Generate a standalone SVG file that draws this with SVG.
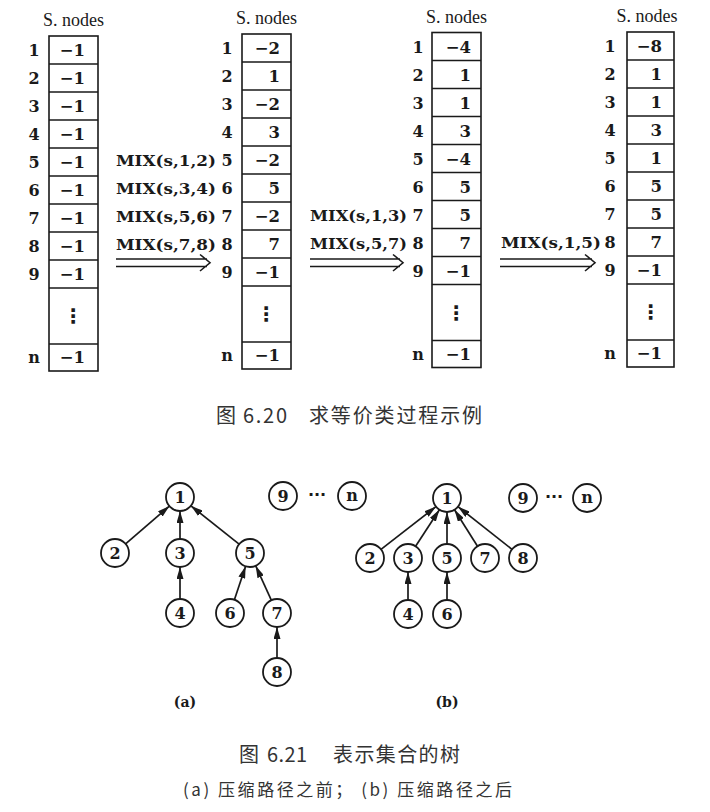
<svg xmlns="http://www.w3.org/2000/svg" width="710" height="812" viewBox="0 0 710 812">
<style>
.box{fill:none;stroke:#1a1a1a;stroke-width:1.6}
.ln{stroke:#1a1a1a;stroke-width:1.5}
.lbl{font-family:"DejaVu Serif","Liberation Serif",serif;font-weight:bold;font-size:16px;fill:#1a1a1a;text-anchor:middle}
.val{font-family:"DejaVu Serif","Liberation Serif",serif;font-weight:bold;font-size:16.5px;fill:#1a1a1a;text-anchor:end}
.hdr{font-family:"Liberation Serif",serif;font-size:18px;fill:#1a1a1a;text-anchor:middle}
.mix{font-family:"DejaVu Serif","Liberation Serif",serif;font-weight:bold;font-size:15.5px;fill:#1a1a1a;text-anchor:end}
.dots{font-family:"DejaVu Sans",sans-serif;font-weight:bold;font-size:20px;fill:#1a1a1a;text-anchor:middle}
.arr{fill:none;stroke:#1a1a1a;stroke-width:1.6}
.node circle{fill:#fff;stroke:#1a1a1a;stroke-width:1.8}
.node text{font-family:"DejaVu Serif","Liberation Serif",serif;font-weight:bold;font-size:16px;fill:#1a1a1a;text-anchor:middle}
.edge{stroke:#1a1a1a;stroke-width:1.7;marker-end:url(#ah)}
.cap{font-family:"Noto Sans CJK SC",sans-serif;font-size:20px;fill:#333}
.sub{font-family:"Noto Sans CJK SC",sans-serif;font-size:17px;fill:#333}
.ab{font-family:"DejaVu Serif","Liberation Serif",serif;font-weight:bold;font-size:14px;fill:#1a1a1a;text-anchor:middle}
.ell{font-family:"DejaVu Sans",sans-serif;font-weight:bold;font-size:16px;fill:#1a1a1a;text-anchor:middle}
</style>
<defs>
<marker id="ah" markerWidth="12" markerHeight="7" refX="12" refY="3.5" orient="auto" markerUnits="userSpaceOnUse">
<path d="M0,0 L12,3.5 L0,7 z" fill="#1a1a1a"/>
</marker>
</defs>

<!-- Array 1 -->
<g id="array1" transform="translate(49,36)">
<text class="hdr" x="24.5" y="-10">S. nodes</text>
<rect class="box" x="0" y="0" width="49" height="335"/>
<path class="ln" d="M0,28H49M0,56H49M0,84H49M0,112H49M0,140H49M0,168H49M0,196H49M0,224H49M0,252H49M0,308H49"/>
<text class="lbl" x="-15" y="20">1</text><text class="lbl" x="-15" y="48">2</text><text class="lbl" x="-15" y="76">3</text><text class="lbl" x="-15" y="104">4</text><text class="lbl" x="-15" y="132">5</text><text class="lbl" x="-15" y="160">6</text><text class="lbl" x="-15" y="188">7</text><text class="lbl" x="-15" y="216">8</text><text class="lbl" x="-15" y="244">9</text><text class="lbl" x="-15" y="327">n</text>
<text class="val" x="36" y="20">−1</text><text class="val" x="36" y="48">−1</text><text class="val" x="36" y="76">−1</text><text class="val" x="36" y="104">−1</text><text class="val" x="36" y="132">−1</text><text class="val" x="36" y="160">−1</text><text class="val" x="36" y="188">−1</text><text class="val" x="36" y="216">−1</text><text class="val" x="36" y="244">−1</text>
<text class="dots" x="24" y="287">⋮</text>
<text class="val" x="36" y="327">−1</text>
</g>

<!-- Array 2 -->
<g id="array2" transform="translate(242,34)">
<text class="hdr" x="24.5" y="-10">S. nodes</text>
<rect class="box" x="0" y="0" width="49" height="335"/>
<path class="ln" d="M0,28H49M0,56H49M0,84H49M0,112H49M0,140H49M0,168H49M0,196H49M0,224H49M0,252H49M0,308H49"/>
<text class="lbl" x="-15" y="20">1</text><text class="lbl" x="-15" y="48">2</text><text class="lbl" x="-15" y="76">3</text><text class="lbl" x="-15" y="104">4</text><text class="lbl" x="-15" y="132">5</text><text class="lbl" x="-15" y="160">6</text><text class="lbl" x="-15" y="188">7</text><text class="lbl" x="-15" y="216">8</text><text class="lbl" x="-15" y="244">9</text><text class="lbl" x="-15" y="327">n</text>
<text class="val" x="38" y="20">−2</text><text class="val" x="38" y="48">1</text><text class="val" x="38" y="76">−2</text><text class="val" x="38" y="104">3</text><text class="val" x="38" y="132">−2</text><text class="val" x="38" y="160">5</text><text class="val" x="38" y="188">−2</text><text class="val" x="38" y="216">7</text><text class="val" x="38" y="244">−1</text>
<text class="dots" x="24" y="287">⋮</text>
<text class="val" x="38" y="327">−1</text>
</g>

<!-- Array 3 -->
<g id="array3" transform="translate(432,32.5)">
<text class="hdr" x="24.5" y="-10">S. nodes</text>
<rect class="box" x="0" y="0" width="49" height="335"/>
<path class="ln" d="M0,28H49M0,56H49M0,84H49M0,112H49M0,140H49M0,168H49M0,196H49M0,224H49M0,252H49M0,308H49"/>
<text class="lbl" x="-14" y="20">1</text><text class="lbl" x="-14" y="48">2</text><text class="lbl" x="-14" y="76">3</text><text class="lbl" x="-14" y="104">4</text><text class="lbl" x="-14" y="132">5</text><text class="lbl" x="-14" y="160">6</text><text class="lbl" x="-14" y="188">7</text><text class="lbl" x="-14" y="216">8</text><text class="lbl" x="-14" y="244">9</text><text class="lbl" x="-14" y="327">n</text>
<text class="val" x="39" y="20">−4</text><text class="val" x="39" y="48">1</text><text class="val" x="39" y="76">1</text><text class="val" x="39" y="104">3</text><text class="val" x="39" y="132">−4</text><text class="val" x="39" y="160">5</text><text class="val" x="39" y="188">5</text><text class="val" x="39" y="216">7</text><text class="val" x="39" y="244">−1</text>
<text class="dots" x="24" y="287">⋮</text>
<text class="val" x="39" y="327">−1</text>
</g>

<!-- Array 4 -->
<g id="array4" transform="translate(627,32)">
<text class="hdr" x="20" y="-10">S. nodes</text>
<rect class="box" x="0" y="0" width="47" height="335"/>
<path class="ln" d="M0,28H47M0,56H47M0,84H47M0,112H47M0,140H47M0,168H47M0,196H47M0,224H47M0,252H47M0,308H47"/>
<text class="lbl" x="-17" y="20">1</text><text class="lbl" x="-17" y="48">2</text><text class="lbl" x="-17" y="76">3</text><text class="lbl" x="-17" y="104">4</text><text class="lbl" x="-17" y="132">5</text><text class="lbl" x="-17" y="160">6</text><text class="lbl" x="-17" y="188">7</text><text class="lbl" x="-17" y="216">8</text><text class="lbl" x="-17" y="244">9</text><text class="lbl" x="-17" y="327">n</text>
<text class="val" x="35" y="20">−8</text><text class="val" x="35" y="48">1</text><text class="val" x="35" y="76">1</text><text class="val" x="35" y="104">3</text><text class="val" x="35" y="132">1</text><text class="val" x="35" y="160">5</text><text class="val" x="35" y="188">5</text><text class="val" x="35" y="216">7</text><text class="val" x="35" y="244">−1</text>
<text class="dots" x="23.5" y="287">⋮</text>
<text class="val" x="35" y="327">−1</text>
</g>

<!-- Transition arrows and labels -->
<g id="connectors-top">
<text class="mix" x="216" y="166" textLength="100" lengthAdjust="spacingAndGlyphs">MIX(s,1,2)</text>
<text class="mix" x="216" y="194" textLength="100" lengthAdjust="spacingAndGlyphs">MIX(s,3,4)</text>
<text class="mix" x="216" y="222" textLength="100" lengthAdjust="spacingAndGlyphs">MIX(s,5,6)</text>
<text class="mix" x="216" y="250" textLength="100" lengthAdjust="spacingAndGlyphs">MIX(s,7,8)</text>
<path class="arr" d="M116,259H207M116,266.5H207M200,254.5L210,262.75L200,271"/>
<text class="mix" x="407" y="220.5" textLength="97" lengthAdjust="spacingAndGlyphs">MIX(s,1,3)</text>
<text class="mix" x="407" y="248.5" textLength="97" lengthAdjust="spacingAndGlyphs">MIX(s,5,7)</text>
<path class="arr" d="M310,259H400M310,266.5H400M393,254.5L403,262.75L393,271"/>
<text class="mix" x="601" y="248" textLength="100" lengthAdjust="spacingAndGlyphs">MIX(s,1,5)</text>
<path class="arr" d="M500,259H592M500,266.5H592M585,254.5L595,262.75L585,271"/>
</g>

<!-- Caption 6.20 -->
<text class="cap" x="216" y="423">图</text>
<text class="cap" x="243" y="423" textLength="44">6.20</text>
<text class="cap" x="309" y="423" textLength="173">求等价类过程示例</text>

<!-- Tree (a) edges -->
<g id="edges-a">
<line class="edge" x1="125.6" y1="543.9" x2="169.4" y2="506.1"/>
<line class="edge" x1="180" y1="539" x2="180" y2="511"/>
<line class="edge" x1="239.1" y1="544.2" x2="190.9" y2="505.8"/>
<line class="edge" x1="180" y1="599" x2="180" y2="567"/>
<line class="edge" x1="234.4" y1="599.7" x2="245.6" y2="566.3"/>
<line class="edge" x1="271.3" y1="600.2" x2="255.7" y2="565.8"/>
<line class="edge" x1="277" y1="658" x2="277" y2="627"/>
</g>
<!-- Tree (a) nodes -->
<g id="a1" class="node"><circle cx="180" cy="497" r="14"/><text x="180" y="503">1</text></g>
<g id="a2" class="node"><circle cx="115" cy="553" r="14"/><text x="115" y="559">2</text></g>
<g id="a3" class="node"><circle cx="180" cy="553" r="14"/><text x="180" y="559">3</text></g>
<g id="a5" class="node"><circle cx="250" cy="553" r="14"/><text x="250" y="559">5</text></g>
<g id="a4" class="node"><circle cx="180" cy="613" r="14"/><text x="180" y="619">4</text></g>
<g id="a6" class="node"><circle cx="230" cy="613" r="14"/><text x="230" y="619">6</text></g>
<g id="a7" class="node"><circle cx="277" cy="613" r="14"/><text x="277" y="619">7</text></g>
<g id="a8" class="node"><circle cx="277" cy="672" r="14"/><text x="277" y="678">8</text></g>
<g id="a9" class="node"><circle cx="283" cy="496" r="14"/><text x="283" y="502">9</text></g>
<g id="an" class="node"><circle cx="352" cy="496" r="14"/><text x="352" y="501">n</text></g>
<text class="ell" x="317" y="500">···</text>
<text class="ab" x="185" y="707">(a)</text>

<!-- Tree (b) edges -->
<g id="edges-b">
<line class="edge" x1="381.0" y1="549.4" x2="436.0" y2="506.6"/>
<line class="edge" x1="415.6" y1="546.3" x2="439.4" y2="509.7"/>
<line class="edge" x1="447" y1="544" x2="447" y2="512"/>
<line class="edge" x1="477.5" y1="546.2" x2="454.5" y2="509.8"/>
<line class="edge" x1="512.0" y1="549.3" x2="458.0" y2="506.7"/>
<line class="edge" x1="408" y1="600" x2="408" y2="572"/>
<line class="edge" x1="447" y1="600" x2="447" y2="572"/>
</g>
<!-- Tree (b) nodes -->
<g id="b1" class="node"><circle cx="447" cy="498" r="14"/><text x="447" y="504">1</text></g>
<g id="b2" class="node"><circle cx="370" cy="558" r="14"/><text x="370" y="564">2</text></g>
<g id="b3" class="node"><circle cx="408" cy="558" r="14"/><text x="408" y="564">3</text></g>
<g id="b5" class="node"><circle cx="447" cy="558" r="14"/><text x="447" y="564">5</text></g>
<g id="b7" class="node"><circle cx="485" cy="558" r="14"/><text x="485" y="564">7</text></g>
<g id="b8" class="node"><circle cx="523" cy="558" r="14"/><text x="523" y="564">8</text></g>
<g id="b4" class="node"><circle cx="408" cy="614" r="14"/><text x="408" y="620">4</text></g>
<g id="b6" class="node"><circle cx="447" cy="614" r="14"/><text x="447" y="620">6</text></g>
<g id="b9" class="node"><circle cx="523" cy="498" r="14"/><text x="523" y="504">9</text></g>
<g id="bn" class="node"><circle cx="587" cy="498" r="14"/><text x="587" y="503">n</text></g>
<text class="ell" x="554" y="502">···</text>
<text class="ab" x="447" y="707">(b)</text>

<!-- Caption 6.21 -->
<text class="cap" x="239" y="762">图</text>
<text class="cap" x="267" y="762" textLength="40">6.21</text>
<text class="cap" x="333" y="762" textLength="127">表示集合的树</text>
<text class="sub" x="183" y="796" textLength="329">(a) 压缩路径之前； (b) 压缩路径之后</text>
</svg>
